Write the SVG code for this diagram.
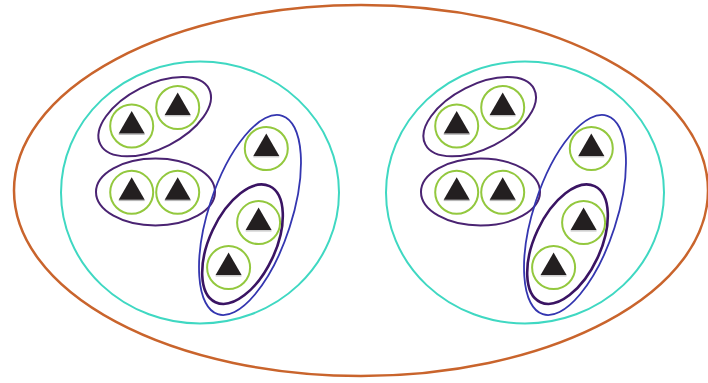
<svg xmlns="http://www.w3.org/2000/svg" xmlns:xlink="http://www.w3.org/1999/xlink" width="708" height="383" viewBox="0 0 708 383">
<style>
.outer{fill:none;stroke:#c9642c;stroke-width:2.5}
.set{fill:none;stroke:#3fd8c2;stroke-width:2}
.pair{fill:none;stroke:#4a2372;stroke-width:2}
.blue{fill:none;stroke:#3436b0;stroke-width:1.8}
.dark{fill:none;stroke:#3a1463;stroke-width:2.6}
.ring{fill:#fff;stroke:#93c83e;stroke-width:2}
.tri{fill:#231f20}
.shadow{stroke:#b0b0b0;stroke-width:1}
</style>
<defs>
<g id="atom">
<circle class="ring" r="21.5"/>
<line class="shadow" x1="-13" y1="8.3" x2="13" y2="8.3"/>
<polygon class="tri" points="0,-15 13,7.5 -13,7.5"/>
</g>
<g id="cluster">
<ellipse class="set" cx="200" cy="192.5" rx="139" ry="131"/>
<ellipse class="pair" cx="154.7" cy="116.7" rx="61" ry="31.8" transform="rotate(-27 154.7 116.7)"/>
<ellipse class="pair" cx="155.5" cy="192" rx="59.5" ry="33.5"/>
<ellipse class="blue" cx="250" cy="215" rx="104.3" ry="41.5" transform="rotate(-72 250 215)"/>
<ellipse class="dark" cx="242.5" cy="244.2" rx="64" ry="33" transform="rotate(-65 242.5 244.2)"/>
<use xlink:href="#atom" x="131.7" y="126"/>
<use xlink:href="#atom" x="177.7" y="107.5"/>
<use xlink:href="#atom" x="131.7" y="192.3"/>
<use xlink:href="#atom" x="177.7" y="192.3"/>
<use xlink:href="#atom" x="266.3" y="148.5"/>
<use xlink:href="#atom" x="258.6" y="222.6"/>
<use xlink:href="#atom" x="228.6" y="267.6"/>
</g>
</defs>
<rect width="708" height="383" fill="#fff"/>
<g id="universe">
<ellipse class="outer" cx="361" cy="190.5" rx="347" ry="185.5"/>
</g>
<g id="set-left">
<use xlink:href="#cluster"/>
</g>
<g id="set-right">
<use xlink:href="#cluster" x="325"/>
</g>
<g id="connectors"/>
</svg>
